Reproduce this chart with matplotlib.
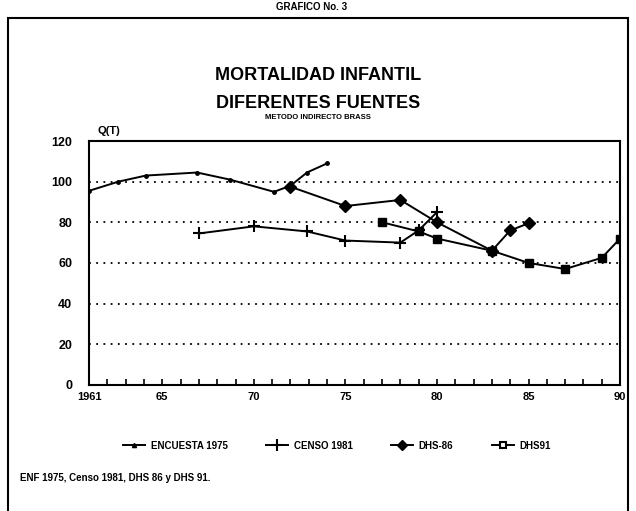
import matplotlib.pyplot as plt
from matplotlib.patches import Rectangle

plt.rcParams['font.family'] = ['Liberation Sans', 'DejaVu Sans']

# ---- data ----
enc_years = [1961, 1962.6, 1964.1, 1966.9, 1968.7, 1971.1, 1972, 1972.9, 1974]
enc_q = [95.5, 100, 103, 104.5, 101, 95, 98, 104.5, 109]

censo_years = [1967, 1970, 1972.9, 1975, 1978, 1979, 1980]
censo_q = [74.5, 78, 75.5, 71, 70, 76, 85]

dhs86_years = [1972, 1975, 1978, 1980, 1983, 1984, 1985]
dhs86_q = [97.5, 88, 91, 80, 66, 76, 79.5]

dhs91_years = [1977, 1979, 1980, 1983, 1985, 1987, 1989, 1990]
dhs91_q = [80, 75.5, 72, 66, 60, 57, 62.5, 72]

xtick_pos = [1961, 1965, 1970, 1975, 1980, 1985, 1990]
xtick_lab = ['1961', '65', '70', '75', '80', '85', '90']
ytick_pos = [0, 20, 40, 60, 80, 100, 120]

fig = plt.figure(figsize=(6.36, 5.11), dpi=100)
ax = fig.add_axes([0.140, 0.247, 0.835, 0.477])

# dotted gridlines
for y in [20, 40, 60, 80, 100]:
    ax.axhline(y, color='k', linestyle=(0, (1, 3)), linewidth=1.3, zorder=1)

ax.plot(enc_years, enc_q, color='k', linewidth=1.4, marker='o', markersize=2.5, zorder=3)
ax.plot(censo_years, censo_q, color='k', linewidth=1.4, marker='+', markersize=8,
        markeredgewidth=1.5, zorder=3)
ax.plot(dhs86_years, dhs86_q, color='k', linewidth=1.4, marker='D', markersize=6, zorder=4)
ax.plot(dhs91_years, dhs91_q, color='k', linewidth=1.4, marker='s', markersize=6,
        markerfacecolor='k', zorder=4)

ax.set_xlim(1961, 1990)
ax.set_ylim(0, 120)
ax.set_xticks(xtick_pos)
ax.set_xticklabels(xtick_lab, fontweight='bold', fontsize=8)
ax.set_xticks(range(1961, 1991), minor=True)
ax.set_yticks(ytick_pos)
ax.set_yticklabels([str(v) for v in ytick_pos], fontweight='bold', fontsize=9)
ax.tick_params(axis='x', which='both', direction='in', length=4, width=1.2, pad=5)
ax.tick_params(axis='y', length=0, pad=12)
for s in ax.spines.values():
    s.set_linewidth(1.5)

ax.text(0.015, 1.03, 'Q(T)', transform=ax.transAxes, fontsize=8, fontweight='bold')

# titles
fig.text(0.5, 0.853, 'MORTALIDAD INFANTIL', ha='center', va='center',
         fontsize=13, fontweight='bold')
fig.text(0.5, 0.797, 'DIFERENTES FUENTES', ha='center', va='center',
         fontsize=13, fontweight='bold')
fig.text(0.5, 0.771, 'METODO INDIRECTO BRASS', ha='center', va='center',
         fontsize=5.5, fontweight='bold')
fig.text(0.49, 0.997, 'GRAFICO No. 3', ha='center', va='top',
         fontsize=7, fontweight='bold')

# legend
handles = [
    plt.Line2D([], [], color='k', linewidth=1.4, marker='^', markersize=3),
    plt.Line2D([], [], color='k', linewidth=1.4, marker='+', markersize=8, markeredgewidth=1.5),
    plt.Line2D([], [], color='k', linewidth=1.4, marker='D', markersize=5),
    plt.Line2D([], [], color='k', linewidth=1.4, marker='s', markersize=5,
               markerfacecolor='white', markeredgewidth=1.5),
]
labels = ['ENCUESTA 1975', 'CENSO 1981', 'DHS-86', 'DHS91']
fig.legend(handles, labels, loc='center', bbox_to_anchor=(0.53, 0.128), ncol=4,
           frameon=False, handlelength=2.2, columnspacing=4.0, handletextpad=0.6,
           prop={'weight': 'bold', 'size': 7})

fig.text(0.032, 0.064, 'ENF 1975, Censo 1981, DHS 86 y DHS 91.', fontsize=7,
         fontweight='bold', va='center')

# outer frame
fig.patches.append(Rectangle((0.013, -0.05), 0.974, 1.015, transform=fig.transFigure,
                             fill=False, edgecolor='k', linewidth=1.5))

fig.savefig('out.png', dpi=100)
